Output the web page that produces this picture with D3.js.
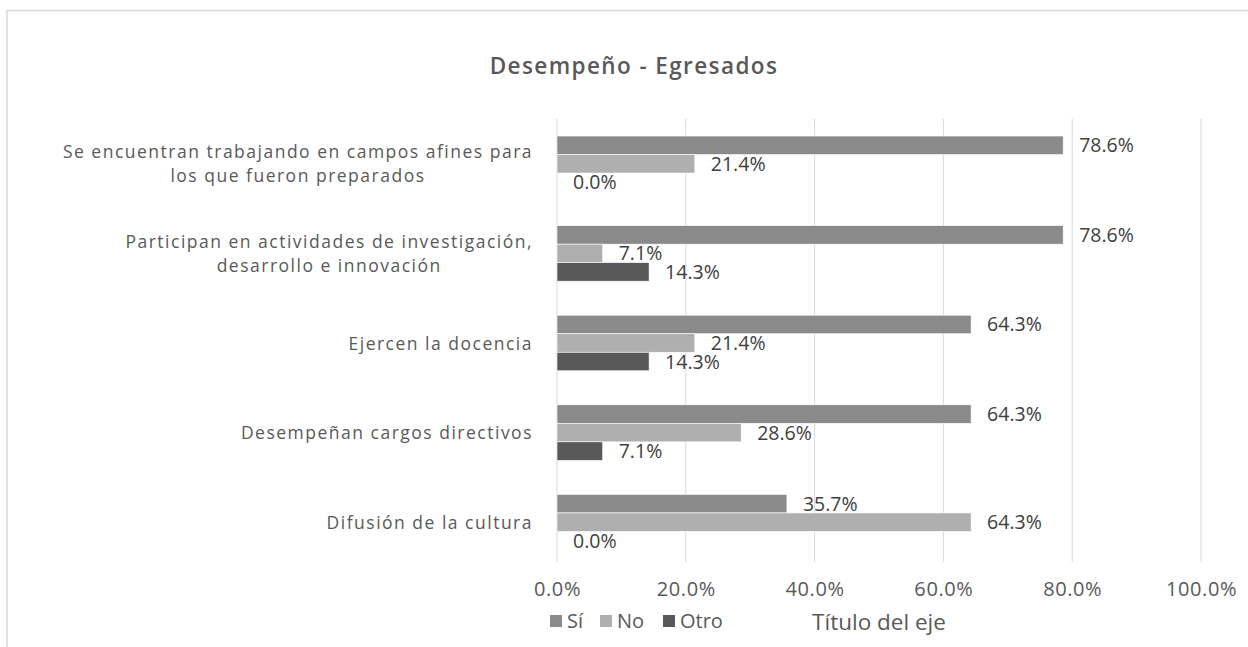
<!DOCTYPE html>
<html>
<head>
<meta charset="utf-8">
<script src="https://cdn.jsdelivr.net/npm/d3@7"></script>
<style>
  html, body { margin: 0; padding: 0; background: #ffffff; }
  svg { display: block; }
  text { font-family: "Open Sans", "Noto Sans", sans-serif; }
</style>
</head>
<body>
<svg id="chart" width="1248" height="647"></svg>
<script>
// Data
const categories = [
  ["Se encuentran trabajando en campos afines para", "los que fueron preparados"],
  ["Participan en actividades de investigación,", "desarrollo e innovación"],
  ["Ejercen la docencia"],
  ["Desempeñan cargos directivos"],
  ["Difusión de la cultura"]
];
const seriesNames = ["Sí", "No", "Otro"];
const valuesSi   = [78.6, 78.6, 64.3, 64.3, 35.7];
const valuesNo   = [21.4, 7.1, 21.4, 28.6, 64.3];
const valuesOtro = [0.0, 14.3, 14.3, 7.1, 0.0];
const tickValues = [0, 20, 40, 60, 80, 100];
const seriesColors = ["#8a8a8a", "#afafaf", "#595959"];

const seriesValues = [valuesSi, valuesNo, valuesOtro];
const rows = categories.map((c, i) => ({
  key: i,
  lines: c,
  values: seriesNames.map((s, j) => ({ series: s, value: seriesValues[j][i] }))
}));

const svg = d3.select("#chart");

// Chart frame
svg.append("rect")
  .attr("x", 7).attr("y", 10.5)
  .attr("width", 1260).attr("height", 660)
  .attr("fill", "#ffffff")
  .attr("stroke", "#d9d9d9").attr("stroke-width", 1.5);

// Scales
const x = d3.scaleLinear().domain([0, 100]).range([557, 1201]);
const y = d3.scaleBand()
  .domain(rows.map(d => d.key))
  .range([119, 567])
  .paddingInner(0.38)
  .paddingOuter(0.19);
const ySub = d3.scaleBand()
  .domain(seriesNames)
  .range([0, y.bandwidth()]);
const color = d3.scaleOrdinal().domain(seriesNames).range(seriesColors);

// Title
svg.append("text")
  .attr("x", 634).attr("y", 74)
  .attr("text-anchor", "middle")
  .attr("font-size", 22.5)
  .attr("font-weight", 600)
  .attr("letter-spacing", 1.4)
  .attr("fill", "#595959")
  .text("Desempeño - Egresados");

// Vertical gridlines
svg.append("g")
  .selectAll("line")
  .data(tickValues)
  .join("line")
  .attr("x1", d => x(d)).attr("x2", d => x(d))
  .attr("y1", y.range()[0]).attr("y2", y.range()[1] - 5)
  .attr("stroke", "#d9d9d9").attr("stroke-width", 1);

// X axis tick labels
const xAxis = d3.axisBottom(x)
  .tickValues(tickValues)
  .tickFormat(d => d.toFixed(1) + "%")
  .tickSize(0)
  .tickPadding(0);
const gx = svg.append("g")
  .attr("transform", "translate(0,596)")
  .call(xAxis);
gx.select(".domain").remove();
gx.selectAll("text")
  .attr("dy", 0)
  .attr("font-family", "Open Sans, sans-serif")
  .attr("font-size", 20)
  .attr("letter-spacing", 0.6)
  .attr("fill", "#595959");

// Axis title
svg.append("text")
  .attr("x", (x.range()[0] + x.range()[1]) / 2)
  .attr("y", 630)
  .attr("text-anchor", "middle")
  .attr("font-family", "Lato, sans-serif")
  .attr("font-size", 22.5)
  .attr("fill", "#595959")
  .text("Título del eje");

// Category labels (multi-line blocks centred, right edge next to the plot)
const catG = svg.append("g");
rows.forEach(r => {
  const cy = y(r.key) + y.bandwidth() / 2;
  const t = catG.append("text")
    .attr("font-size", 17.5)
    .attr("letter-spacing", 1.5)
    .attr("fill", "#595959")
    .attr("text-anchor", "middle");
  const n = r.lines.length;
  r.lines.forEach((ln, i) => {
    t.append("tspan")
      .attr("x", 0)
      .attr("y", cy + (i - (n - 1) / 2) * 24 + 6.5)
      .text(ln);
  });
  const w = t.node().getBBox().width;
  t.attr("transform", `translate(${533 - w / 2},0)`);
});

// Bars
const groups = svg.append("g")
  .selectAll("g")
  .data(rows)
  .join("g")
  .attr("transform", d => `translate(0,${y(d.key)})`);

groups.selectAll("rect")
  .data(d => d.values)
  .join("rect")
  .attr("x", x(0))
  .attr("y", d => ySub(d.series))
  .attr("width", d => x(d.value) - x(0))
  .attr("height", ySub.bandwidth())
  .attr("fill", d => color(d.series))
  .attr("stroke", "#ffffff")
  .attr("stroke-width", 0.6);

// Value labels
groups.selectAll("text")
  .data(d => d.values)
  .join("text")
  .attr("x", d => x(d.value) + 16)
  .attr("y", d => ySub(d.series) + ySub.bandwidth() / 2 + 7)
  .attr("font-size", 19.5)
  .attr("fill", "#404040")
  .text(d => d.value.toFixed(1) + "%");

// Legend
const legend = svg.append("g").attr("transform", "translate(550,621)");
const legendX = [0, 50, 113];
seriesNames.forEach((s, i) => {
  const g = legend.append("g").attr("transform", `translate(${legendX[i]},0)`);
  g.append("rect")
    .attr("x", 0).attr("y", -6)
    .attr("width", 12).attr("height", 12)
    .attr("fill", color(s));
  g.append("text")
    .attr("x", 17).attr("y", 7)
    .attr("font-size", 20)
    .attr("fill", "#595959")
    .text(s);
});
</script>
</body>
</html>
